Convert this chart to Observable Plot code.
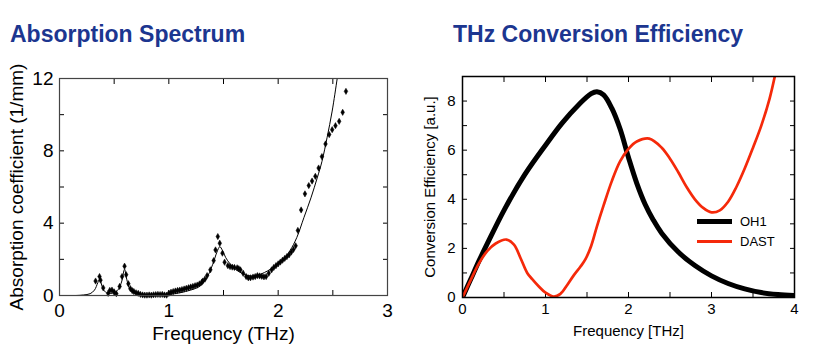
<!DOCTYPE html>
<html>
<head>
<meta charset="utf-8">
<script src="https://cdn.jsdelivr.net/npm/d3@7"></script>
<script src="https://cdn.jsdelivr.net/npm/@observablehq/plot@0.6"></script>
<style>
  html, body { margin: 0; padding: 0; background: #fff; }
  #wrap { position: relative; width: 815px; height: 355px; overflow: hidden; font-family: "Liberation Sans", Arial, sans-serif; }
  .title { position: absolute; top: 23px; font-weight: bold; font-size: 23px; color: #1c3690; white-space: nowrap; line-height: 1; }
  .chart { position: absolute; top: 0; }
  .legend { position: absolute; left: 697px; font-size: 13px; color: #000; }
  .legend .row { position: absolute; display: flex; align-items: center; white-space: nowrap; }
  .legend .sw { width: 35px; margin-right: 8px; }
</style>
</head>
<body>
<div id="wrap">
  <div class="title" style="left:10px">Absorption Spectrum</div>
  <div class="title" style="left:453px">THz Conversion Efficiency</div>
  <div id="left" class="chart" style="left:0px"></div>
  <div id="right" class="chart" style="left:410px"></div>
  <div class="legend">
    <div class="row" style="left:0; top:214px"><div class="sw" style="height:5px;background:#000"></div><span>OH1</span></div>
    <div class="row" style="left:0; top:234px"><div class="sw" style="height:3px;background:#f5290a"></div><span>DAST</span></div>
  </div>
</div>
<script>
// ---------- Absorption spectrum data ----------
const absPointFreq = [0.33,0.366,0.375,0.40,0.445,0.46,0.48,0.50,0.52,0.55,0.572,0.595,0.61,0.63,0.648,0.665,0.68,0.70,0.72,0.74,0.76,0.78,0.80,0.82,0.84,0.86,0.88,0.90,0.92,0.94,0.96,0.98,1.00,1.02,1.04,1.06,1.08,1.10,1.12,1.14,1.16,1.18,1.20,1.22,1.24,1.26,1.28,1.30,1.31,1.33,1.35,1.38,1.41,1.427,1.448,1.466,1.49,1.51,1.54,1.56,1.58,1.60,1.625,1.64,1.655,1.68,1.707,1.727,1.747,1.77,1.79,1.81,1.83,1.85,1.87,1.89,1.914,1.94,1.96,1.98,2.00,2.02,2.04,2.06,2.08,2.10,2.12,2.14,2.16,2.18,2.21,2.245,2.28,2.31,2.34,2.37,2.40,2.433,2.467,2.494,2.524,2.558,2.59,2.62];
const absPointValue = [0.8,1.05,0.85,0.42,0.12,0.28,0.3,0.2,0.1,0.5,1.05,1.62,1.15,0.65,0.38,0.27,0.22,0.15,0.12,0.06,0.03,0.02,0.02,0.03,0.02,0.04,0.05,0.06,0.05,0.06,0.03,0.02,0.12,0.18,0.22,0.25,0.28,0.3,0.33,0.36,0.4,0.43,0.47,0.5,0.54,0.58,0.64,0.72,0.8,0.9,1.1,1.42,1.93,2.52,3.26,2.89,2.34,1.84,1.65,1.6,1.57,1.55,1.53,1.48,1.42,1.23,1.05,0.98,0.98,1.02,1.05,1.1,1.08,1.06,1.03,1.05,1.23,1.42,1.55,1.65,1.75,1.85,1.95,2.05,2.15,2.25,2.4,2.55,2.75,3.6,4.73,5.62,6.08,6.33,6.59,7.05,7.68,8.38,8.9,9.17,9.39,9.63,10.13,11.29];
const absFitFreq = [0,0.15,0.22,0.28,0.32,0.35,0.366,0.38,0.40,0.43,0.47,0.50,0.54,0.57,0.595,0.615,0.64,0.68,0.75,0.85,1.0,1.1,1.2,1.28,1.34,1.40,1.44,1.466,1.49,1.52,1.56,1.62,1.70,1.75,1.80,1.90,2.00,2.05,2.11,2.17,2.235,2.30,2.357,2.40,2.448,2.494,2.54,2.56];
const absFitValue = [0,0,0.03,0.1,0.3,0.7,0.9,0.7,0.35,0.15,0.12,0.15,0.35,0.8,1.45,0.9,0.4,0.15,0.05,0.03,0.06,0.15,0.3,0.5,0.9,1.7,2.4,2.7,2.5,2.1,1.75,1.4,1.15,1.08,1.1,1.35,1.75,2.0,2.5,3.2,4.3,5.4,6.5,7.4,8.75,10.2,12,12.8];
const absXTicks = [0,0.5,1,1.5,2,2.5,3];
const absXLabels = [0,1,2,3];
const absYTicks = [0,2,4,6,8,10,12];
const absYLabels = [0,4,8,12];

// ---------- Conversion efficiency data ----------
const oh1Freq = [0,0.1,0.2,0.3,0.5,0.75,1.0,1.2,1.4,1.55,1.62,1.7,1.8,1.9,2.0,2.1,2.2,2.3,2.4,2.6,2.8,3.0,3.2,3.4,3.6,3.8,4.0];
const oh1Value = [0,0.75,1.5,2.2,3.55,5.0,6.2,7.1,7.85,8.3,8.38,8.25,7.7,6.85,5.7,4.65,3.8,3.15,2.62,1.85,1.3,0.88,0.57,0.35,0.2,0.12,0.08];
const dastFreq = [0,0.1,0.2,0.3,0.4,0.53,0.62,0.7,0.78,0.84,0.92,1.0,1.1,1.18,1.26,1.34,1.42,1.48,1.55,1.62,1.7,1.8,1.9,2.0,2.1,2.25,2.4,2.5,2.6,2.7,2.8,2.9,3.0,3.1,3.2,3.3,3.4,3.5,3.6,3.7,3.8];
const dastValue = [0,0.72,1.4,1.9,2.2,2.36,2.15,1.6,1.0,0.75,0.45,0.2,0.04,0.15,0.5,0.9,1.25,1.55,2.1,2.9,3.75,4.75,5.55,6.05,6.35,6.47,6.1,5.65,5.1,4.5,4.0,3.65,3.47,3.55,3.9,4.5,5.25,6.1,7.0,8.1,9.6];
const effXTicks = [0,0.5,1,1.5,2,2.5,3,3.5,4];
const effXLabels = [0,1,2,3,4];
const effYTicks = [0,1,2,3,4,5,6,7,8,9];
const effYLabels = [0,2,4,6,8];

const absPoints = absPointFreq.map((f, i) => ({f, a: absPointValue[i]}));
const absFit = absFitFreq.map((f, i) => ({f, a: absFitValue[i]}));
const oh1 = oh1Freq.map((f, i) => ({f, v: oh1Value[i]}));
const dast = dastFreq.map((f, i) => ({f, v: dastValue[i]}));

function inwardTicks(xt, yt, L) {
  const none = () => "";
  return [
    Plot.axisX(xt, {anchor: "bottom", tickSize: L, dy: -L, tickFormat: none, label: null}),
    Plot.axisX(xt, {anchor: "top", tickSize: L, dy: L, tickFormat: none, label: null}),
    Plot.axisY(yt, {anchor: "left", tickSize: L, dx: L, tickFormat: none, label: null}),
    Plot.axisY(yt, {anchor: "right", tickSize: L, dx: -L, tickFormat: none, label: null})
  ];
}

const left = Plot.plot({
  width: 400, height: 355,
  marginLeft: 59, marginRight: 13, marginTop: 78, marginBottom: 60,
  style: {fontSize: "19px", fontFamily: "Liberation Sans, Arial, sans-serif", color: "#000", background: "transparent"},
  x: {domain: [0, 3]},
  y: {domain: [0, 12]},
  marks: [
    ...inwardTicks(absXTicks, absYTicks, 5),
    Plot.axisX(absXLabels, {anchor: "bottom", tickSize: 0, tickPadding: 8, label: "Frequency (THz)", labelAnchor: "center", labelOffset: 44, labelArrow: "none"}),
    Plot.axisY(absYLabels, {anchor: "left", tickSize: 0, tickPadding: 6, label: "Absorption coefficient (1/mm)", labelAnchor: "center", labelOffset: 50, labelArrow: "none"}),
    Plot.line(absFit, {x: "f", y: "a", curve: "catmull-rom", stroke: "#000", strokeWidth: 1, clip: true}),
    Plot.dot(absPoints, {x: "f", y: "a", symbol: "diamond", r: 1.9, fill: "#000", stroke: "#000", strokeWidth: 0.5}),
    Plot.frame({stroke: "#444", strokeWidth: 1.2})
  ]
});
document.getElementById("left").append(left);

const right = Plot.plot({
  width: 405, height: 355,
  marginLeft: 52, marginRight: 21, marginTop: 76, marginBottom: 58,
  style: {fontSize: "15px", fontFamily: "Liberation Sans, Arial, sans-serif", color: "#000", background: "transparent"},
  x: {domain: [0, 4]},
  y: {domain: [0, 9]},
  marks: [
    ...inwardTicks(effXTicks, effYTicks, 5),
    Plot.axisX(effXLabels, {anchor: "bottom", tickSize: 0, tickPadding: 6, label: "Frequency [THz]", labelAnchor: "center", labelOffset: 38, labelArrow: "none"}),
    Plot.axisY(effYLabels, {anchor: "left", tickSize: 0, tickPadding: 7, label: "Conversion Efficiency [a.u.]", labelAnchor: "center", labelOffset: 38, labelArrow: "none"}),
    Plot.line(oh1, {x: "f", y: "v", curve: "catmull-rom", stroke: "#000", strokeWidth: 5, clip: true}),
    Plot.line(dast, {x: "f", y: "v", curve: "catmull-rom", stroke: "#f5290a", strokeWidth: 2.7, clip: true}),
    Plot.frame({stroke: "#000", strokeWidth: 1.5})
  ]
});
document.getElementById("right").append(right);
</script>
</body>
</html>
